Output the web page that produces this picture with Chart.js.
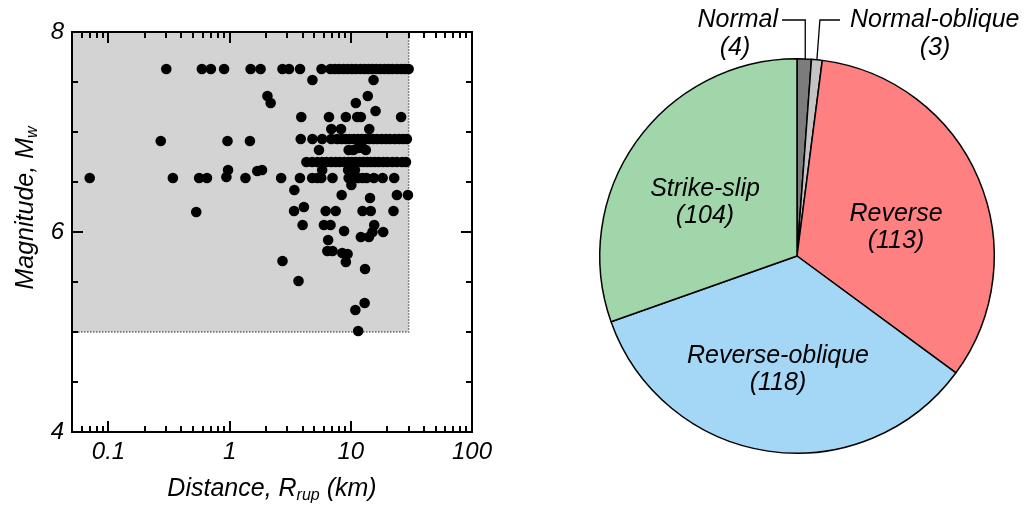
<!DOCTYPE html>
<html>
<head>
<meta charset="utf-8">
<script src="https://cdn.jsdelivr.net/npm/chart.js@4/dist/chart.umd.min.js"></script>
<style>
  body { margin: 0; background: #fff; }
  #wrap { position: relative; width: 1024px; height: 506px; }
  canvas { position: absolute; top: 0; }
  #scatter { left: 0; }
  #pie { left: 512px; }
</style>
</head>
<body>
<div id="wrap">
  <canvas id="scatter" width="512" height="506"></canvas>
  <canvas id="pie" width="512" height="506"></canvas>
</div>
<script>
// ---- data: records as [Rrup (km), Mw] ----
var quakeRecords = [
  [0.30,7.63],[0.59,7.63],[0.70,7.63],[0.90,7.63],[1.49,7.63],[1.80,7.63],[2.73,7.63],[3.09,7.63],
  [3.81,7.63],[5.73,7.63],[6.8,7.63],[7.4,7.63],[8.0,7.63],[8.7,7.63],[9.4,7.63],[10.2,7.63],
  [11,7.63],[12,7.63],[13,7.63],[14,7.63],[15,7.63],[16.2,7.63],[17.5,7.63],[19,7.63],
  [20.5,7.63],[22,7.63],[24,7.63],[26,7.63],[28,7.63],[30,7.63],
  [4.82,7.52],[15.4,7.52],
  [2.05,7.36],[13.8,7.36],[2.18,7.29],[11.0,7.29],[16.0,7.21],
  [3.9,7.15],[6.6,7.15],[9.1,7.15],[11.3,7.15],[12.1,7.15],[26,7.15],
  [6.9,7.03],[8.3,7.03],[14.2,7.03],
  [0.27,6.91],[0.96,6.91],[1.47,6.91],[3.86,6.93],[4.82,6.93],[5.8,6.93],[6.9,6.93],[7.7,6.93],
  [8.4,6.93],[9.1,6.93],[9.8,6.93],[10.6,6.93],[11.4,6.93],[12.3,6.93],[13.2,6.93],[14.2,6.93],
  [15.3,6.93],[16.5,6.93],[18,6.93],[19.5,6.93],[21,6.93],[23,6.93],[25,6.93],[27,6.93],[29,6.93],
  [5.46,6.82],[9.6,6.82],[10.5,6.82],[11.5,6.84],[12.5,6.84],[13.3,6.82],
  [4.3,6.70],[4.8,6.70],[5.3,6.70],[5.8,6.70],[6.3,6.70],[6.9,6.70],[7.5,6.70],[8.1,6.70],
  [8.8,6.70],[9.5,6.70],[10.2,6.70],[11,6.70],[11.8,6.70],[12.7,6.70],[13.6,6.70],[14.6,6.70],
  [15.8,6.70],[17,6.70],[18.5,6.70],[20,6.70],[22,6.70],[24,6.70],[26.5,6.70],[28.5,6.70],
  [0.97,6.62],[1.69,6.61],[1.85,6.62],[5.8,6.62],[9.5,6.62],[10.8,6.62],
  [0.07,6.54],[0.34,6.54],[0.56,6.54],[0.65,6.54],[0.94,6.55],[1.35,6.54],[2.66,6.54],[3.8,6.54],
  [4.8,6.54],[5.3,6.54],[5.7,6.54],[7.06,6.54],[9.6,6.54],[10.5,6.54],[11.5,6.54],[12.5,6.54],
  [13.5,6.54],[15.5,6.54],[18.3,6.54],[22.8,6.54],
  [10.1,6.47],[3.42,6.42],
  [8.4,6.37],[24,6.37],[29.6,6.37],[14.4,6.34],
  [4.1,6.25],[3.4,6.21],[6.2,6.21],[7.5,6.21],[12.5,6.21],[14.6,6.21],[22.5,6.21],[0.53,6.20],
  [4.0,6.07],[6.0,6.07],[6.8,6.07],[15.6,6.07],[8.8,6.01],[15.1,6.00],[18.5,6.00],
  [12.1,5.95],[14.1,5.95],[6.5,5.92],
  [6.4,5.81],[7.06,5.81],[8.5,5.79],[9.4,5.78],[2.73,5.71],[9.1,5.70],[13.1,5.63],
  [3.7,5.51],[13.0,5.29],[10.9,5.22],[11.5,5.01]
];

// region of interest (shaded)
var shadeDistance = [0.05, 30];
var shadeMagnitude = [5, 8];

// axis ticks
var distanceTicks = [0.06,0.07,0.08,0.09,0.1,0.2,0.3,0.4,0.5,0.6,0.7,0.8,0.9,1,2,3,4,5,6,7,8,9,10,20,30,40,50,60,70,80,90,100];
var distanceLabels = [0.1, 1, 10, 100];
var magnitudeTicks = [4,4.5,5,5.5,6,6.5,7,7.5,8];
var magnitudeLabels = [4, 6, 8];

// pie
var mechanismNames = ['Normal', 'Normal-oblique', 'Reverse', 'Reverse-oblique', 'Strike-slip'];
var mechanismCounts = [4, 3, 113, 118, 104];
var mechanismColors = ['#7c7c7c', '#c4c4c4', '#ff8080', '#a4d7f5', '#a0d6a9'];

var FONT = "'Liberation Sans', Arial, sans-serif";

function drawRich(ctx, parts, x, y, size) {
    // parts: [text, isSubscript]
    var total = 0;
    parts.forEach(function(p){
        ctx.font = 'italic ' + (p[1] ? Math.round(size*0.65) : size) + 'px ' + FONT;
        total += ctx.measureText(p[0]).width;
    });
    var cx = x - total/2;
    ctx.textAlign = 'left';
    ctx.textBaseline = 'middle';
    parts.forEach(function(p){
        ctx.font = 'italic ' + (p[1] ? Math.round(size*0.65) : size) + 'px ' + FONT;
        ctx.fillText(p[0], cx, p[1] ? y + size*0.28 : y);
        cx += ctx.measureText(p[0]).width;
    });
}

var scatterFrame = {
    id: 'scatterFrame',
    beforeDatasetsDraw: function(chart){
        var ctx = chart.ctx, xs = chart.scales.x, ys = chart.scales.y;
        var x0 = xs.getPixelForValue(shadeDistance[0]), x1 = xs.getPixelForValue(shadeDistance[1]);
        var y0 = ys.getPixelForValue(shadeMagnitude[1]), y1 = ys.getPixelForValue(shadeMagnitude[0]);
        ctx.save();
        ctx.fillStyle = '#d3d3d3';
        ctx.fillRect(x0, y0, x1 - x0, y1 - y0);
        ctx.strokeStyle = '#6a6a6a';
        ctx.lineWidth = 1.5;
        ctx.setLineDash([1.5, 1.5]);
        ctx.beginPath();
        ctx.moveTo(x0, y1); ctx.lineTo(x1, y1); ctx.lineTo(x1, y0);
        ctx.stroke();
        ctx.restore();
    },
    afterDraw: function(chart){
        var ctx = chart.ctx, a = chart.chartArea, xs = chart.scales.x, ys = chart.scales.y;
        ctx.save();
        ctx.strokeStyle = '#000';
        ctx.lineWidth = 2;
        ctx.strokeRect(a.left, a.top, a.right - a.left, a.bottom - a.top);
        ctx.beginPath();
        distanceTicks.forEach(function(v){
            var px = Math.round(xs.getPixelForValue(v));
            var len = distanceLabels.indexOf(v) >= 0 ? 11 : 6;
            ctx.moveTo(px, a.bottom); ctx.lineTo(px, a.bottom - len);
            ctx.moveTo(px, a.top); ctx.lineTo(px, a.top + len);
        });
        magnitudeTicks.forEach(function(v){
            var py = Math.round(ys.getPixelForValue(v));
            var len = magnitudeLabels.indexOf(v) >= 0 ? 11 : 6;
            ctx.moveTo(a.left, py); ctx.lineTo(a.left + len, py);
            ctx.moveTo(a.right, py); ctx.lineTo(a.right - len, py);
        });
        ctx.stroke();

        // axis titles
        ctx.fillStyle = '#000';
        drawRich(ctx, [['Distance, ', false], ['R', false], ['rup', true], [' (km)', false]],
                 (a.left + a.right)/2, 489, 25);
        ctx.translate(26, (a.top + a.bottom)/2 - 24);
        ctx.rotate(-Math.PI/2);
        drawRich(ctx, [['Magnitude, ', false], ['M', false], ['w', true]], 0, 0, 25);
        ctx.restore();
    }
};

new Chart(document.getElementById('scatter'), {
    type: 'scatter',
    data: {
        datasets: [{
            data: quakeRecords.map(function(r){ return {x: r[0], y: r[1]}; }),
            backgroundColor: '#000',
            borderWidth: 0,
            pointRadius: 5.3,
            pointHoverRadius: 5.3
        }]
    },
    options: {
        responsive: false,
        animation: false,
        events: [],
        layout: { padding: { top: 32, right: 40, left: 0, bottom: 0 } },
        plugins: { legend: { display: false }, tooltip: { enabled: false } },
        scales: {
            x: {
                type: 'logarithmic',
                min: 0.05, max: 100,
                grid: { display: false, drawTicks: false },
                border: { display: false },
                afterBuildTicks: function(s){ s.ticks = distanceTicks.map(function(v){ return {value: v}; }); },
                afterFit: function(s){ s.height = 74; },
                ticks: {
                    autoSkip: false, maxRotation: 0, padding: 6, color: '#000',
                    font: { family: FONT, size: 24, style: 'italic' },
                    callback: function(v){ return distanceLabels.indexOf(v) >= 0 ? String(v) : ''; }
                }
            },
            y: {
                min: 4, max: 8,
                grid: { display: false, drawTicks: false },
                border: { display: false },
                afterFit: function(s){ s.width = 72; },
                ticks: {
                    stepSize: 0.5, autoSkip: false, padding: 8, color: '#000',
                    font: { family: FONT, size: 24, style: 'italic' },
                    callback: function(v){ return magnitudeLabels.indexOf(v) >= 0 ? String(v) : ''; }
                }
            }
        }
    },
    plugins: [scatterFrame]
});

// ---- pie ----
var sliceLabelOffsets = [null, null, [99, -29], [-19, 113], [-92, -54]];

var pieLabels = {
    id: 'pieLabels',
    afterDraw: function(chart){
        var ctx = chart.ctx;
        var arcs = chart.getDatasetMeta(0).data;
        ctx.save();
        ctx.fillStyle = '#000';
        ctx.textAlign = 'center';
        ctx.textBaseline = 'middle';
        ctx.font = 'italic 25px ' + FONT;
        arcs.forEach(function(arc, i){
            var off = sliceLabelOffsets[i];
            if (!off) return;
            ctx.fillText(mechanismNames[i], arc.x + off[0], arc.y + off[1] - 13);
            ctx.fillText('(' + mechanismCounts[i] + ')', arc.x + off[0], arc.y + off[1] + 14);
        });

        // outside labels with leader lines
        function edgePoint(arc){
            var mid = (arc.startAngle + arc.endAngle) / 2;
            return [arc.x + arc.outerRadius * Math.cos(mid), arc.y + arc.outerRadius * Math.sin(mid)];
        }
        var pN = edgePoint(arcs[0]), pO = edgePoint(arcs[1]);
        ctx.textAlign = 'right';
        ctx.fillText(mechanismNames[0], 266, 20);
        ctx.textAlign = 'center';
        ctx.fillText('(' + mechanismCounts[0] + ')', 223, 48);
        ctx.textAlign = 'left';
        ctx.fillText(mechanismNames[1], 338, 20);
        ctx.textAlign = 'center';
        ctx.fillText('(' + mechanismCounts[1] + ')', 423, 48);

        ctx.strokeStyle = '#000';
        ctx.lineWidth = 1.3;
        ctx.beginPath();
        ctx.moveTo(270, 20); ctx.lineTo(pN[0] + 1, 20); ctx.lineTo(pN[0] + 1, pN[1]);
        ctx.moveTo(328, 20); ctx.lineTo(pO[0] + 3, 20); ctx.lineTo(pO[0], pO[1]);
        ctx.stroke();
        ctx.restore();
    }
};

new Chart(document.getElementById('pie'), {
    type: 'pie',
    data: {
        labels: mechanismNames,
        datasets: [{
            data: mechanismCounts,
            backgroundColor: mechanismColors,
            borderColor: '#000',
            borderWidth: 1.5
        }]
    },
    options: {
        responsive: false,
        animation: false,
        events: [],
        layout: { padding: { left: 87, right: 29, top: 57, bottom: 51 } },
        plugins: { legend: { display: false }, tooltip: { enabled: false } }
    },
    plugins: [pieLabels]
});
</script>
</body>
</html>
